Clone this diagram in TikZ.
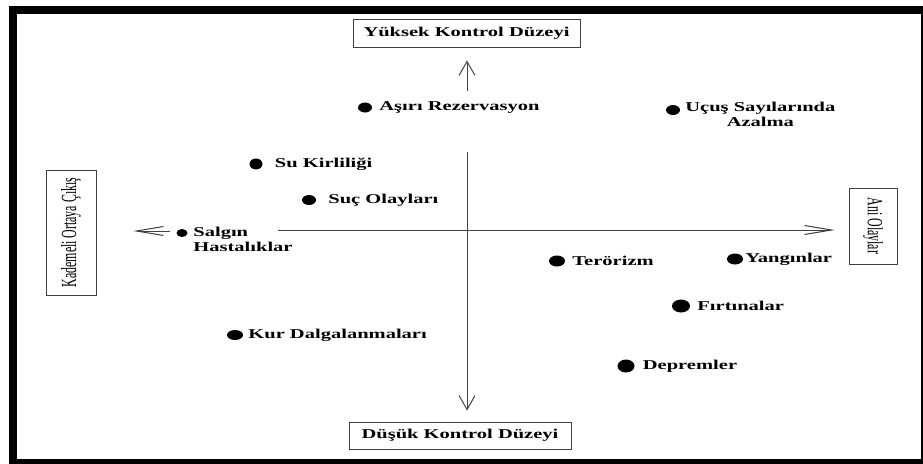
\documentclass[tikz,border=0pt]{standalone}
\usepackage{fontspec}
\setmainfont{Liberation Serif}
\newfontfamily\widefont[FakeStretch=1.52]{Liberation Serif}
\newfontfamily\narrowfont[FakeStretch=0.55]{Liberation Serif}
\usetikzlibrary{arrows.meta,positioning,shapes.geometric}
\definecolor{axgray}{HTML}{404040}
\tikzset{
  lbl/.style={font=\widefont\bfseries\fontsize{13.5}{15}\selectfont,inner sep=0pt},
  blob/.style={ellipse,fill=black,inner sep=0pt,minimum width=14pt,minimum height=10pt},
  kbox/.style={lbl,draw=axgray,line width=0.9pt,minimum height=28pt},
  sbox/.style={draw=axgray,line width=0.9pt,inner sep=0pt,
               font=\narrowfont\fontsize{21.6}{24}\selectfont},
  varr/.style={-{Straight Barb[length=14pt,width=16pt]},line width=1pt,axgray},
  harr/.style={-{Straight Barb[length=27pt,width=9pt]},line width=1pt,axgray},
}
\begin{document}
\begin{tikzpicture}[x=1pt,y=-1pt]
  \useasboundingbox (0,0) rectangle (923,463);
  \draw[line width=8pt] (13,10) rectangle (925,463);
  % axis boxes
  \node[kbox,minimum width=227pt] (top) at (466.5,33) {Yüksek Kontrol Düzeyi};
  \node[kbox,minimum width=222pt,minimum height=27pt] (low) at (460,435.5) {Düşük Kontrol Düzeyi};
  \node[sbox,rotate=90,minimum width=125pt,minimum height=50pt] (kad) at (71,232.5) {Kademeli Ortaya Çıkış};
  \node[sbox,rotate=-90,minimum width=76pt,minimum height=48pt] (ani) at (873,226) {Ani Olaylar};
  % events
  \node[blob] (d1) at (365,107.5) {};
  \node[blob] (d2) at (673,110) {};
  \node[blob,minimum width=13pt,minimum height=11pt] (d3) at (256,164) {};
  \node[blob] (d4) at (309,200) {};
  \node[blob,minimum width=11pt,minimum height=8pt] (d5) at (182,233) {};
  \node[blob,minimum width=16pt] (d6) at (235,335) {};
  \node[blob,minimum width=16pt,minimum height=11pt] (d7) at (557,261) {};
  \node[blob,minimum width=16pt,minimum height=11pt] (d8) at (735,259) {};
  \node[blob,minimum width=18pt,minimum height=13pt] (d9) at (681,306) {};
  \node[blob,minimum width=17pt,minimum height=13pt] (d10) at (626,366) {};
  \node[lbl,right=7pt of d1] (t1) {Aşırı Rezervasyon};
  \node[lbl,align=center,anchor=north west] (t2) at ([xshift=5pt,yshift=8pt]d2.east) {Uçuş Sayılarında\\Azalma};
  \node[lbl,right=12pt of d3] (t3) {Su Kirliliği};
  \node[lbl,right=12pt of d4] (t4) {Suç Olayları};
  \node[lbl,align=left,anchor=north west] (t5) at ([xshift=5.5pt,yshift=6pt]d5.east) {Salgın\\Hastalıklar};
  \node[lbl,right=5pt of d6] (t6) {Kur Dalgalanmaları};
  \node[lbl,right=7pt of d7] (t7) {Terörizm};
  \node[lbl,right=2pt of d8] (t8) {Yangınlar};
  \node[lbl,right=7pt of d9] (t9) {Fırtınalar};
  \node[lbl,right=8pt of d10] (t10) {Depremler};
  % axes
  \coordinate (vu) at (467,91);
  \coordinate (vd) at (467,152);
  \coordinate (hl) at (170,231);
  \coordinate (hr) at (278,230);
  \draw[varr,shorten >=13pt] (vu) -- (vu |- top.south);
  \draw[varr,shorten >=11pt] (vd) -- (vd |- low.north);
  \draw[harr,shorten >=37pt] (hl) -- (hl -| kad.south);
  \draw[harr,shorten >=14pt] (hr) -- (hr -| ani.south);
\end{tikzpicture}
\end{document}
